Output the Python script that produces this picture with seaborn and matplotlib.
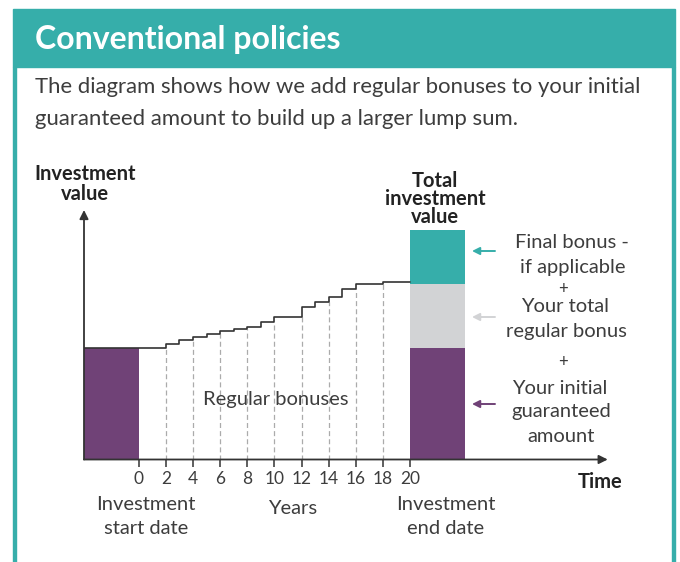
import matplotlib
matplotlib.use("Agg")
import matplotlib.pyplot as plt
from matplotlib.patches import Rectangle, FancyArrowPatch
import seaborn as sns
import pandas as pd

# ---- data -------------------------------------------------------------
# Policy value over time (value units, initial guaranteed amount = 100)
step_years = [0, 2, 3, 4, 5, 6, 7, 8, 9, 10, 12, 13, 14, 15, 16, 18, 20]
step_values = [100, 103.3, 107.5, 109.9, 112.3, 114.7, 116.5, 118.8, 123.3,
               127.8, 136.8, 141.2, 145.2, 152.6, 157.7, 159.2, 159.2]
tick_years = [0, 2, 4, 6, 8, 10, 12, 14, 16, 18, 20]

# Breakdown of the total investment value at the end date
components = ["Your initial guaranteed amount", "Your total regular bonus",
              "Final bonus - if applicable"]
component_values = [100, 57, 48.5]

# ---- style ------------------------------------------------------------
sns.set_theme(style="white")
plt.rcParams["font.family"] = ["Lato", "DejaVu Sans"]

TEAL = "#36aeaa"
PURPLE = "#704277"
GREY = "#d2d3d5"
INK = "#333333"
TEXT = "#3d3d3d"

W, H = 680, 562
fig = plt.figure(figsize=(W / 100, H / 100), dpi=100)


def P(x, y):
    """pixel position (from top-left) -> figure fraction"""
    return x / W, 1 - y / H


# ---- header and frame -------------------------------------------------
fig.patches.append(Rectangle(P(13, 67), (675 - 13) / W, (67 - 9) / H,
                             transform=fig.transFigure, color=TEAL, zorder=0))
for x0 in (13, 672):
    fig.patches.append(Rectangle(P(x0, 562), 3 / W, (562 - 67) / H,
                                 transform=fig.transFigure, color=TEAL, zorder=0))

fig.text(*P(35, 39), "Conventional policies", fontsize=23, fontweight="bold",
         color="white", ha="left", va="center")
fig.text(*P(35, 87), "The diagram shows how we add regular bonuses to your initial",
         fontsize=15.9, color=TEXT, ha="left", va="center")
fig.text(*P(35, 119), "guaranteed amount to build up a larger lump sum.",
         fontsize=15.9, color=TEXT, ha="left", va="center")

# ---- chart axes -------------------------------------------------------
PX_YEAR = 13.57
PX_UNIT = 1.116
X0, Y0 = 138.7, 459.5            # pixel of year 0 / value 0
left_px, right_px, top_px = 84, 620, 200
ax = fig.add_axes([left_px / W, 1 - Y0 / H, (right_px - left_px) / W, (Y0 - top_px) / H])
ax.set_xlim((left_px - X0) / PX_YEAR, (right_px - X0) / PX_YEAR)
ax.set_ylim(0, (Y0 - top_px) / PX_UNIT)
ax.patch.set_alpha(0)
for s in ax.spines.values():
    s.set_visible(False)
ax.set_yticks([])
ax.set_xticks(tick_years)
ax.set_xticklabels([str(t) for t in tick_years])
ax.tick_params(axis="x", bottom=True, length=5, width=1.1, color=INK,
               labelsize=12.5, labelcolor=TEXT, pad=3)
x_left = (left_px - X0) / PX_YEAR

# starting block and final stacked bar
bar_w = 4.05
ax.bar([-bar_w], [component_values[0]], width=bar_w, align="edge",
       color=PURPLE, linewidth=0, zorder=2)
bottom = 0
for val, col in zip(component_values, [PURPLE, GREY, TEAL]):
    ax.bar([20], [val], bottom=bottom, width=bar_w, align="edge",
           color=col, linewidth=0, zorder=2)
    bottom += val

# dashed guides at each tick between start and end
guide_x = [t for t in tick_years if 0 < t < 20]
guide_h = [step_values[step_years.index(t) - 1] for t in guide_x]
ax.vlines(guide_x, 0, guide_h, colors="#ababab", linestyles=(0, (4, 2.5)),
          linewidth=0.9, zorder=1)

# value line (flat over the start block, then stepping up with bonuses)
line_df = pd.DataFrame({"year": [x_left] + step_years,
                        "value": [step_values[0]] + step_values})
sns.lineplot(data=line_df, x="year", y="value", drawstyle="steps-post",
             color=INK, linewidth=1.2, ax=ax, zorder=3)
ax.set_xlabel("")
ax.set_ylabel("")

# axis arrows
arrow = dict(arrowstyle="-|>", color=INK, lw=1.3, mutation_scale=13,
             shrinkA=0, shrinkB=0)
ax.annotate("", xy=(x_left, (Y0 - 210) / PX_UNIT), xytext=(x_left, 0),
            arrowprops=arrow, annotation_clip=False, zorder=4)
ax.annotate("", xy=((607.7 - X0) / PX_YEAR, 0), xytext=(x_left, 0),
            arrowprops=arrow, annotation_clip=False, zorder=4)

ax.text((276 - X0) / PX_YEAR, (Y0 - 399) / PX_UNIT, "Regular bonuses",
        fontsize=14.5, color=TEXT, ha="center", va="center", zorder=5)

# ---- surrounding labels ----------------------------------------------
bold = dict(fontweight="bold", color="#222222", ha="center", va="center",
            multialignment="center")
fig.text(*P(85, 184), "Investment\nvalue", fontsize=14.5, linespacing=1.0, **bold)
fig.text(*P(435, 199), "Total\ninvestment\nvalue", fontsize=14.5,
         linespacing=0.9, **bold)
fig.text(*P(600, 482), "Time", fontsize=14.5, **bold)

norm = dict(color=TEXT, ha="center", va="center")
for txt, x, y in [("Investment", 146, 504), ("start date", 146, 529),
                  ("Years", 293, 508),
                  ("Investment", 446, 504), ("end date", 446, 529)]:
    fig.text(*P(x, y), txt, fontsize=14.5, **norm)

side = [("Final bonus -", 572, 243), ("if applicable", 573, 267), ("+", 563, 289),
        ("Your total", 565, 307), ("regular bonus", 566, 332), ("+", 563, 362),
        ("Your initial", 560, 388), ("guaranteed", 561, 412), ("amount", 561, 437)]
for txt, x, y in side:
    fig.text(*P(x, y), txt, fontsize=14.5 if txt != "+" else 12, **norm)

for col, y in [(TEAL, 251), (GREY, 317), (PURPLE, 404)]:
    fig.add_artist(FancyArrowPatch(
        P(495, y), P(472, y), transform=fig.transFigure, arrowstyle="-|>",
        mutation_scale=11, color=col, lw=1.4, shrinkA=0, shrinkB=0))

fig.savefig("out.png", dpi=100)
